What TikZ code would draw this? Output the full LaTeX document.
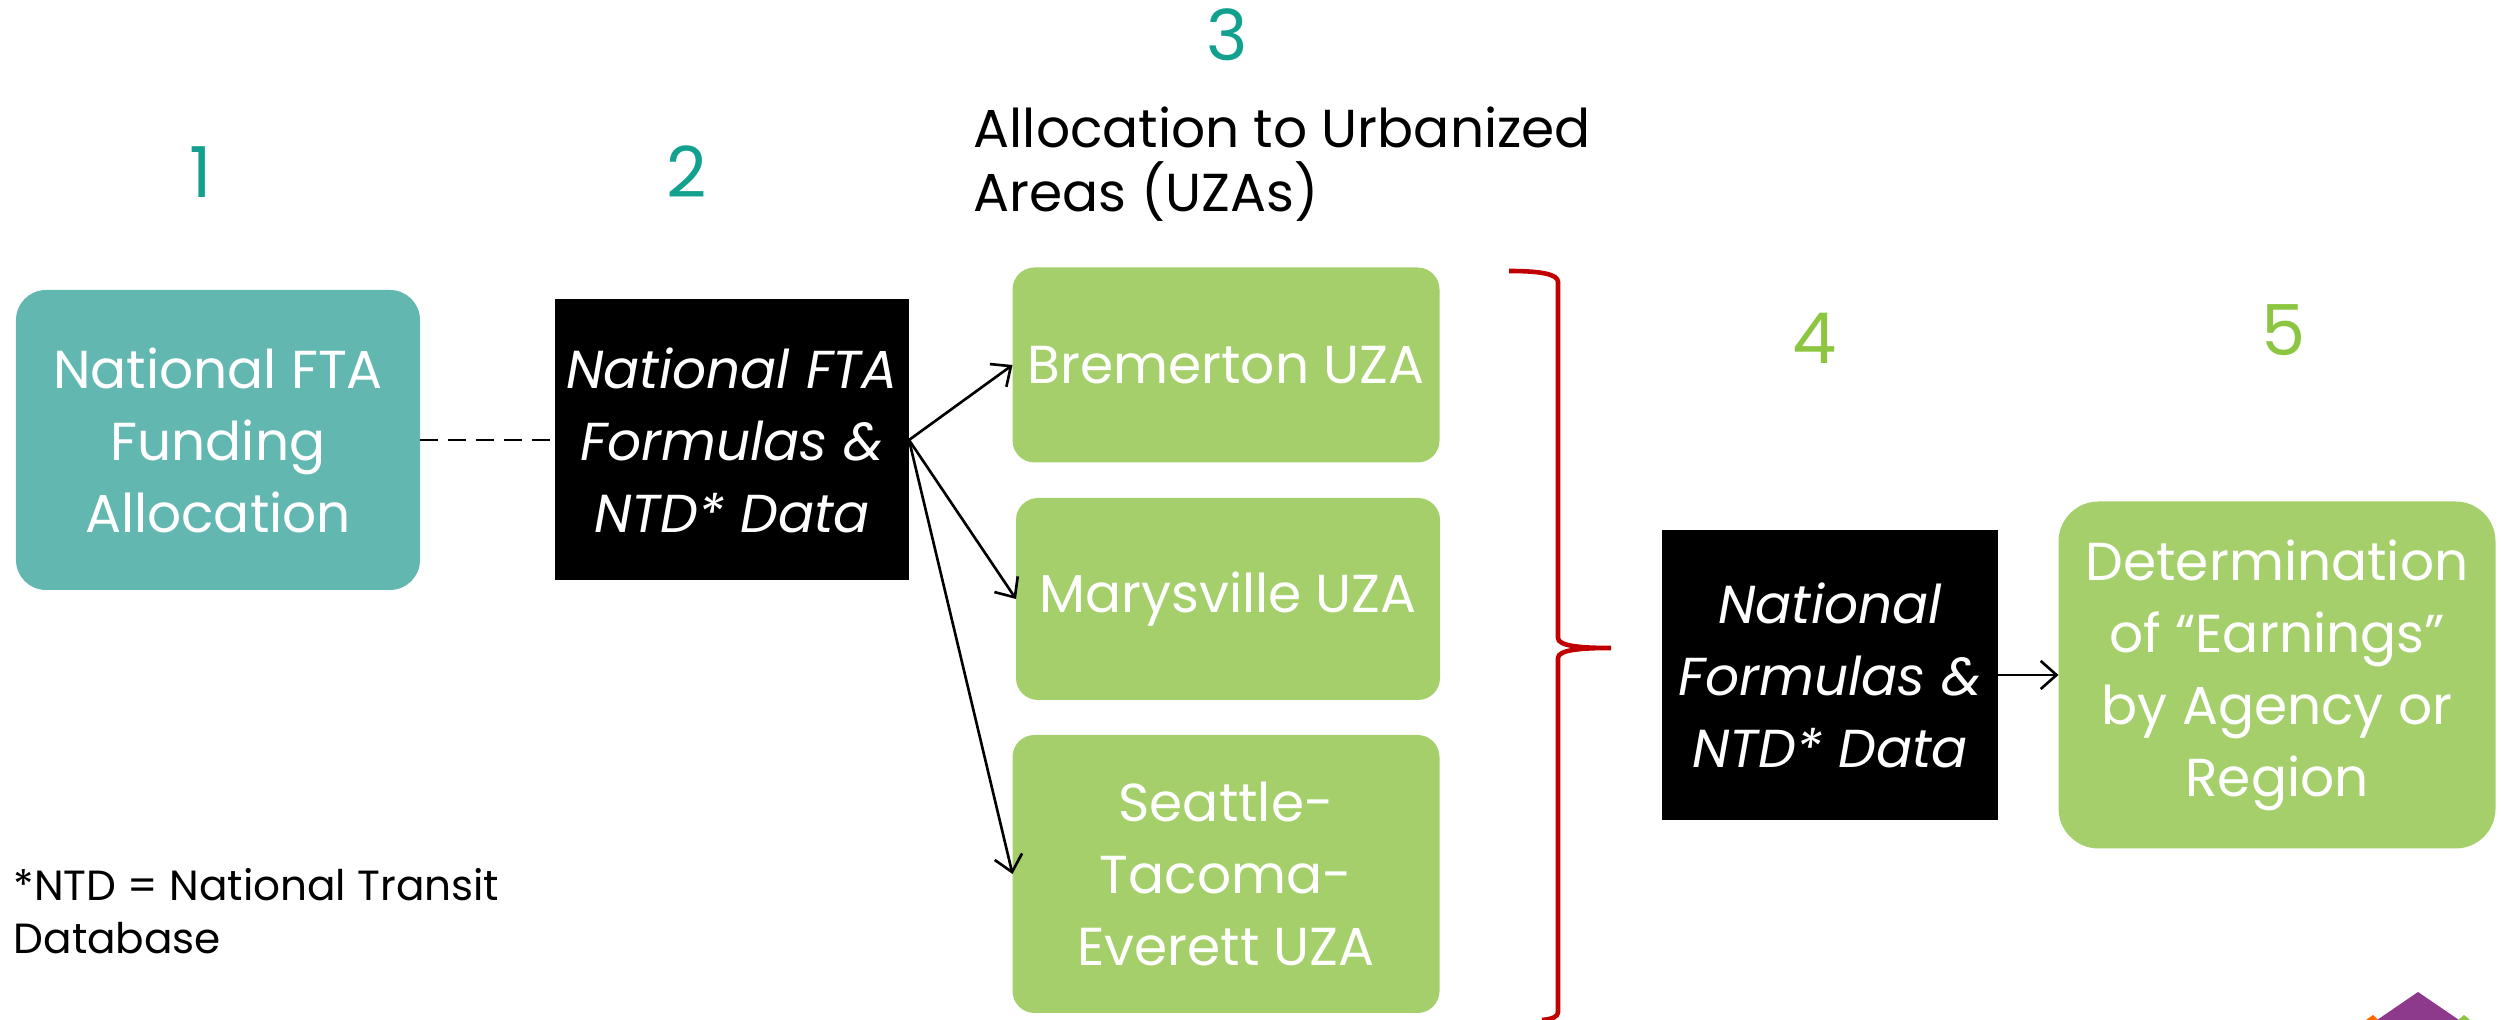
\documentclass[tikz,border=0pt]{standalone}
\usepackage{fontspec}
\setmainfont{Poppins}
\usetikzlibrary{arrows.meta}

\definecolor{tealbox}{HTML}{62B8B0}
\definecolor{tealnum}{HTML}{12A08F}
\definecolor{greenbox}{HTML}{A5CF6B}
\definecolor{greennum}{HTML}{8CC641}
\definecolor{bracered}{HTML}{C00000}
\definecolor{logopurple}{HTML}{8E3A8C}

\begin{document}
\begin{tikzpicture}[
	box/.style={inner sep=0,outer sep=0,align=center,text=white,font=\fontsize{15.2}{20.5}\selectfont},
	fundbox/.style={box,fill=tealbox,rounded corners=0.3cm},
	formbox/.style={box,fill=black,font=\fontsize{15.2}{20.5}\selectfont\itshape},
	uzabox/.style={box,fill=greenbox,rounded corners=0.22cm},
	stepnum/.style={inner sep=0,font=\fontsize{20}{24}\selectfont},
	link/.style={-{Straight Barb[length=4.5pt,width=8pt]},line width=0.75pt}
]
	\useasboundingbox (0,0) rectangle (25.01,10.20);
	% step numbers
	\node[stepnum,text=tealnum] (n1) at (2.01,8.48) {1};
	\node[stepnum,text=tealnum] (n2) at (6.87,8.48) {2};
	\node[stepnum,text=tealnum] (n3) at (12.27,9.85) {3};
	\node[stepnum,text=greennum] (n4) at (18.15,6.82) {4};
	\node[stepnum,text=greennum] (n5) at (22.84,6.90) {5};
	\node[inner sep=0,anchor=west,align=left,font=\fontsize{15.2}{18.2}\selectfont] (uzas) at (9.73,8.56) {Allocation to Urbanized\\Areas (UZAs)};
	% boxes
	\node[fundbox,minimum width=4.04cm,minimum height=3.00cm] (1) at (2.18,5.80) {National FTA\\Funding\\Allocation};
	\node[formbox,minimum width=3.54cm,minimum height=2.81cm] (2) at (7.32,5.80) {National FTA\\Formulas \&\\NTD* Data};
	\node[uzabox,minimum width=4.27cm,minimum height=1.95cm] (3a) at (12.26,6.55) {Bremerton UZA};
	\node[uzabox,minimum width=4.24cm,minimum height=2.02cm] (3b) at (12.28,4.21) {Marysville UZA};
	\node[uzabox,minimum width=4.27cm,minimum height=2.78cm] (3c) at (12.26,1.46) {Seattle-\\Tacoma-\\Everett UZA};
	\node[formbox,minimum width=3.36cm,minimum height=2.90cm] (4) at (18.30,3.45) {National\\Formulas \&\\NTD* Data};
	\node[uzabox,rounded corners=0.4cm,minimum width=4.37cm,minimum height=3.47cm] (5) at (22.77,3.45) {Determination\\of “Earnings”\\by Agency or\\Region};
	% connectors
	\draw[dash pattern=on 5pt off 3pt,line width=0.75pt] (1) -- (2);
	\draw[link] (2.east) -- (3a.west);
	\draw[link] (2.east) -- (3b.west);
	\draw[link] (2.east) -- (3c.west);
	\draw[link] (4) -- (5);
	% brace over the three UZAs
	\coordinate (tip) at (16.11,3.72);
	\draw[bracered,line width=1.3pt] (15.09,7.49) .. controls (15.40,7.49) and (15.58,7.46) .. (15.58,7.38)
		-- (15.58,3.82) .. controls (15.58,3.74) and (15.80,3.72) .. (tip)
		.. controls (15.80,3.72) and (15.58,3.70) .. (15.58,3.62)
		-- (15.58,0.08) .. controls (15.58,0.03) and (15.52,0.01) .. (15.42,0.0);
	% footnote
	\node[inner sep=0,anchor=west,align=left,font=\fontsize{12}{15}\selectfont] (note) at (0.13,1.085) {*NTD = National Transit\\Database};
	% logo corner
	\fill[logopurple] (23.77,0) -- (24.18,0.28) -- (24.59,0) -- cycle;
	\fill[orange!80!red] (23.66,0) -- (23.73,0.05) -- (23.78,0) -- cycle;
	\fill[greennum] (24.58,0) -- (24.64,0.05) -- (24.70,0) -- cycle;
\end{tikzpicture}
\end{document}
